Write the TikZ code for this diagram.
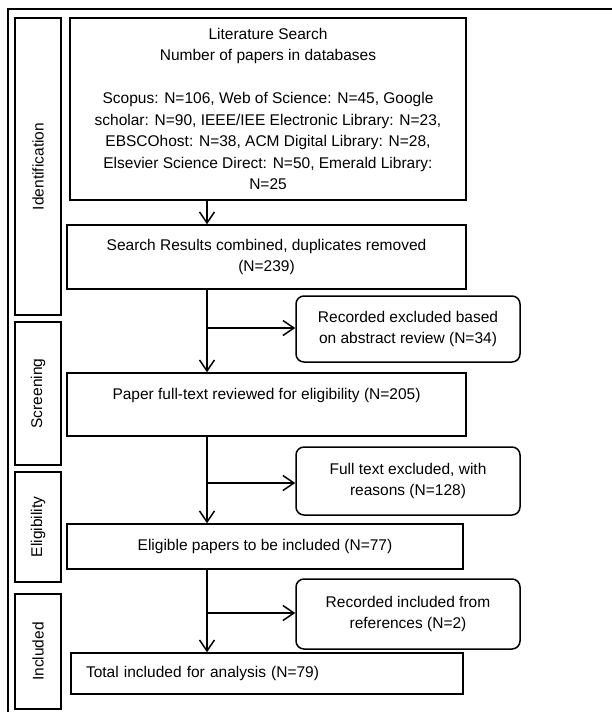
\documentclass[tikz,border=0pt]{standalone}
\usepackage{fontspec}
\setmainfont{Liberation Sans}
\usetikzlibrary{positioning,arrows.meta}

\tikzset{
    box/.style = {draw, line width=1.5pt, inner sep=0pt, align=center,
                  font=\fontsize{15.5}{21.5}\selectfont},
    note/.style = {box, rounded corners=8pt},
    phase/.style = {box, rotate=90},
    flow/.style = {line width=1.5pt, -{Straight Barb[length=11pt,width=15pt,line width=1.5pt]}}
}

\begin{document}
\begin{tikzpicture}[x=1pt, y=1pt]
    \useasboundingbox (0,0) rectangle (611,-712);
    \draw[line width=1.5pt] (8,-730) -- (8,-9) -- (630,-9);

    % phases
    \node[phase, minimum width=297, minimum height=46] (ident) at (38,-166.5) {Identification};
    \node[phase, minimum width=143, minimum height=46] (screen) at (38,-393.5) {Screening};
    \node[phase, minimum width=110, minimum height=46] (elig) at (38,-527) {Eligibility};
    \node[phase, minimum width=115, minimum height=46] (incl) at (38,-651.5) {Included};

    % main column
    \node[box, minimum width=396, minimum height=182] (search) at (268,-109)
        {Literature Search\\Number of papers in databases\\[21.5pt]
         Scopus: N=106, Web of Science: N=45, Google\\
         scholar: N=90, IEEE/IEE Electronic Library: N=23,\\
         EBSCOhost: N=38, ACM Digital Library: N=28,\\
         Elsevier Science Direct: N=50, Emerald Library:\\
         N=25};
    \node[box, minimum width=399, minimum height=64] (merged) at (266.5,-257)
        {Search Results combined, duplicates removed\\(N=239)};
    \node[box, minimum width=399, minimum height=63] (fulltext) at (266.5,-404.5)
        {Paper full-text reviewed for eligibility (N=205)\\ ~};
    \node[box, minimum width=396, minimum height=45] (eligible) at (265,-546.5)
        {Eligible papers to be included (N=77)};
    \node[box, minimum height=41, text width=362, inner xsep=15pt, align=left] (total) at (267,-673.5)
        {Total included for analysis (N=79)};

    % side notes
    \node[note, minimum width=224, minimum height=66] (abstr) at (408,-329)
        {Recorded excluded based\\on abstract review (N=34)};
    \node[note, minimum width=224, minimum height=68] (reasons) at (408,-481)
        {Full text excluded, with\\reasons (N=128)};
    \node[note, minimum width=224, minimum height=70] (refs) at (408,-614)
        {Recorded included from\\references (N=2)};

    \coordinate (spine) at (207,0);
    \coordinate (b1) at (207,-328);
    \coordinate (b2) at (207,-483);
    \coordinate (b3) at (207,-613);

    \draw[flow] (search.south -| spine) -- (merged.north -| spine);
    \draw[flow] (merged.south -| spine) -- (fulltext.north -| spine);
    \draw[flow] (fulltext.south -| spine) -- (eligible.north -| spine);
    \draw[flow] (eligible.south -| spine) -- (total.north -| spine);
    \draw[flow] (b1) -- (abstr.west |- b1);
    \draw[flow] (b2) -- (reasons.west |- b2);
    \draw[flow] (b3) -- (refs.west |- b3);
\end{tikzpicture}
\end{document}
